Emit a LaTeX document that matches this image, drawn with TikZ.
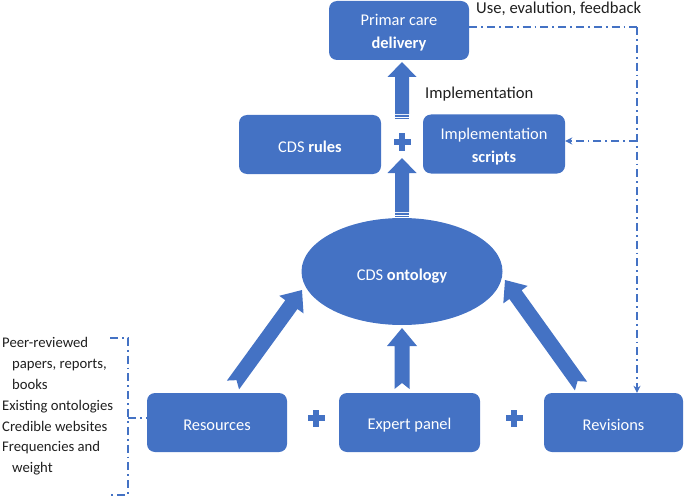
\documentclass[tikz,border=0pt]{standalone}
\usepackage{fontspec}
\setmainfont{Carlito}
\usetikzlibrary{arrows.meta,calc,shapes.geometric}
\definecolor{obl}{HTML}{4472C4}
\definecolor{txt}{HTML}{1F1F1F}
\newcommand\bxs{\rule{0pt}{16.5pt}}
\newcommand\els{\rule{0pt}{21.5pt}}

\newcommand\notchedarrow[2]{%
 \path let \p1=(#1), \p2=(#2), \n1={atan2(\y2-\y1,\x2-\x1)}, \n2={veclen(\x2-\x1,\y2-\y1)} in \pgfextra{\xdef\barang{\n1}\xdef\barlen{\n2}};
 \fill[obl, shift={(#1)}, rotate=\barang] (0,-7.5) -- (\barlen-18,-7.5) -- (\barlen-18,-15) -- (\barlen,0) -- (\barlen-18,15) -- (\barlen-18,7.5) -- (0,7.5) -- (6,0) -- cycle;}

\newcommand\stripedarrow[2]{%
 \path let \p1=(#1), \p2=(#2), \n1={atan2(\y2-\y1,\x2-\x1)}, \n2={veclen(\x2-\x1,\y2-\y1)} in \pgfextra{\xdef\barang{\n1}\xdef\barlen{\n2}};
 \begin{scope}[shift={(#1)}, rotate=\barang]
 \fill[obl] (4.8,-7) -- (\barlen-15,-7) -- (\barlen-15,-14.5) -- (\barlen,0) -- (\barlen-15,14.5) -- (\barlen-15,7) -- (4.8,7) -- cycle;
 \fill[obl] (0,-7) rectangle (1.3,7);
 \fill[obl] (2.4,-7) rectangle (3.7,7);
 \end{scope}}

\begin{document}
\begin{tikzpicture}[x=1pt,y=-1pt,
 box/.style={fill=obl, rounded corners=8pt, minimum width=#1, minimum height=59pt, text=white,
   font=\fontsize{16.4}{23}\selectfont, align=center, inner sep=0pt},
 box/.default=140pt,
 lbl/.style={text=txt, font=\fontsize{16.6}{20}\selectfont, inner sep=0pt},
 dd/.style={draw=obl, line width=1.8pt, dash pattern=on 8pt off 4pt on 1.8pt off 4pt},
 tip/.style={-{Stealth[length=7pt,width=7pt]}},
 plussign/.pic={\fill[obl] (-8.5,-3) rectangle (8.5,3); \fill[obl] (-3,-8.5) rectangle (3,8.5);}
]
\useasboundingbox (0,0) rectangle (685,500);

% boxes
\node[box=140pt] (pc) at (399,30.5) {\bxs Primar care\\\textbf{delivery}};
\node[box=142pt] (rules) at (310,144.5) {\bxs CDS \textbf{rules}};
\node[box=142pt] (sc) at (494,144) {\bxs Implementation\\\textbf{scripts}};
\node[ellipse, fill=obl, minimum width=201pt, minimum height=107pt, inner sep=0pt, text=white,
  font=\fontsize{16.4}{20}\selectfont] (ont) at (402,271.5) {\els CDS \textbf{ontology}};
\node[box=140pt] (res) at (217,422.5) {\bxs Resources};
\node[box=141pt] (exp) at (409.5,422.5) {\bxs Expert panel};
\node[box=139pt] (rev) at (613.5,422.5) {\bxs Revisions};

% labels
\node[lbl, anchor=west] (ufb) at (476,9) {Use, evalution, feedback};
\node[lbl, anchor=west] (impl) at (425,94) {Implementation};
\node[text=txt, anchor=north west, align=left, inner sep=0pt, font=\fontsize{14.7}{20.9}\selectfont] (lst) at (2,337)
 {Peer-reviewed\\\hspace*{10pt}papers, reports,\\\hspace*{10pt}books\\Existing ontologies\\Credible websites\\Frequencies and\\\hspace*{10pt}weight};

% plus signs
\pic at (402,142) {plussign};
\pic at (316,418) {plussign};
\pic at (514,418) {plussign};

% block arrows
\coordinate (s1a) at (402,119);
\coordinate (s1b) at (402,62);
\coordinate (s2a) at (402,217);
\coordinate (s2b) at (402,158);
\stripedarrow{s1a}{s1b}
\stripedarrow{s2a}{s2b}

\coordinate (n1a) at (233,385);
\coordinate (n1b) at (302,290);
\coordinate (n2a) at (402,389);
\coordinate (n2b) at (402,328);
\coordinate (n3a) at (581,386);
\coordinate (n3b) at (505,280);
\notchedarrow{n1a}{n1b}
\notchedarrow{n2a}{n2b}
\notchedarrow{n3a}{n3b}

% feedback dash-dot lines
\coordinate (fb) at (637,27);
\coordinate (fbm) at (637,141);
\draw[dd] (pc.east |- fb) -- (fb);
\draw[dd, tip] (fb) -- (fb |- rev.north);
\draw[dd, tip] (fbm) -- (sc.east |- fbm);

% bracket for resources
\coordinate (bt) at (110,338);
\coordinate (bb) at (110,495);
\coordinate (bm) at (128,418);
\draw[dd] (bt) -- (bt -| bm) -- (bb -| bm) -- (bb);
\draw[dd] (bm) -- (res.west |- bm);
\end{tikzpicture}
\end{document}
